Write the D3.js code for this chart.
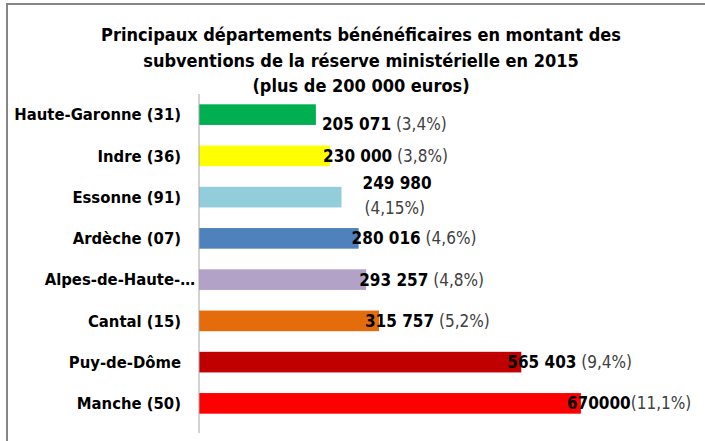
<!DOCTYPE html>
<html>
<head>
<meta charset="utf-8">
<script src="https://cdn.jsdelivr.net/npm/d3@7.9.0/dist/d3.min.js"></script>
<style>
  body { margin: 0; background: #fff; }
  svg text { font-family: 'Liberation Sans Narrow', 'DejaVu Sans Condensed', sans-serif; }
</style>
</head>
<body>
<svg id="chart" width="705" height="441"></svg>
<script>
const titleLines = [
  'Principaux départements bénénéficaires en montant des',
  'subventions de la réserve ministérielle en 2015',
  '(plus de 200 000 euros)'
];
const departements = ['Haute-Garonne (31)', 'Indre (36)', 'Essonne (91)', 'Ardèche (07)',
  'Alpes-de-Haute-…', 'Cantal (15)', 'Puy-de-Dôme', 'Manche (50)'];
const montants = [205071, 230000, 249980, 280016, 293257, 315757, 565403, 670000];
const montantLabels = ['205 071', '230 000', '249 980', '280 016', '293 257', '315 757', '565 403', '670000'];
const pourcentages = ['(3,4%)', '(3,8%)', '(4,15%)', '(4,6%)', '(4,8%)', '(5,2%)', '(9,4%)', '(11,1%)'];
const couleurs = ['#00b050', '#ffff00', '#92cddc', '#4f81bd', '#b2a2c7', '#e46c0a', '#c00000', '#ff0000'];

const svg = d3.select('#chart');

// cadre gris (coupé à droite et en bas)
svg.append('rect')
  .attr('x', 7).attr('y', 4)
  .attr('width', 720).attr('height', 460)
  .attr('fill', 'none')
  .attr('stroke', '#868686')
  .attr('stroke-width', 2);

// titre
svg.append('g')
  .selectAll('text')
  .data(titleLines)
  .join('text')
  .attr('x', 361)
  .attr('y', (d, i) => 41 + i * 25.5)
  .attr('text-anchor', 'middle')
  .attr('font-size', 18)
  .attr('font-weight', 'bold')
  .attr('fill', '#000')
  .text(d => d);

const x = d3.scaleLinear().domain([0, 700000]).range([199, 598]);
const y = d3.scaleBand()
  .domain(departements)
  .range([94, 424])
  .paddingInner(0.5)
  .paddingOuter(0.25);

// barres
svg.append('g')
  .selectAll('rect')
  .data(montants)
  .join('rect')
  .attr('x', x(0))
  .attr('y', (d, i) => y(departements[i]))
  .attr('width', d => x(d) - x(0))
  .attr('height', y.bandwidth())
  .attr('fill', (d, i) => couleurs[i]);

// axe vertical
const yAxis = svg.append('g')
  .attr('transform', `translate(${x(0)},0)`)
  .call(d3.axisLeft(y).tickSize(0).tickPadding(18));
yAxis.select('.domain').remove();
yAxis.selectAll('text')
  .attr('font-size', 16.5)
  .attr('font-weight', 'bold')
  .attr('fill', '#000')
  .attr('dy', '0.35em')
  .attr('dx', d => d.endsWith('…') ? 14 : 0);
svg.append('line')
  .attr('x1', x(0)).attr('x2', x(0))
  .attr('y1', 94).attr('y2', 433)
  .attr('stroke', '#a6a6a6')
  .attr('stroke-width', 1);

// étiquettes de valeurs
const labels = svg.append('g')
  .selectAll('text')
  .data(montants)
  .join('text')
  .attr('font-size', 17)
  .attr('x', (d, i) => {
    if (i === 0) return x(d) + 6;
    if (i === 2) return x(d) + 21;
    return x(d) - (i >= 5 ? 14 : 7);
  })
  .attr('y', (d, i) => {
    const c = y(departements[i]) + y.bandwidth() / 2;
    if (i === 0) return c + 15;
    if (i === 2) return c - 8;
    return c + 6;
  });

labels.append('tspan')
  .attr('font-weight', 'bold')
  .attr('fill', '#000')
  .text((d, i) => montantLabels[i]);

labels.append('tspan')
  .attr('fill', '#404040')
  .attr('x', (d, i) => i === 2 ? x(d) + 23 : null)
  .attr('dy', (d, i) => i === 2 ? 25 : null)
  .text((d, i) => (i === 2 || i === 7 ? '' : ' ') + pourcentages[i]);
</script>
</body>
</html>
